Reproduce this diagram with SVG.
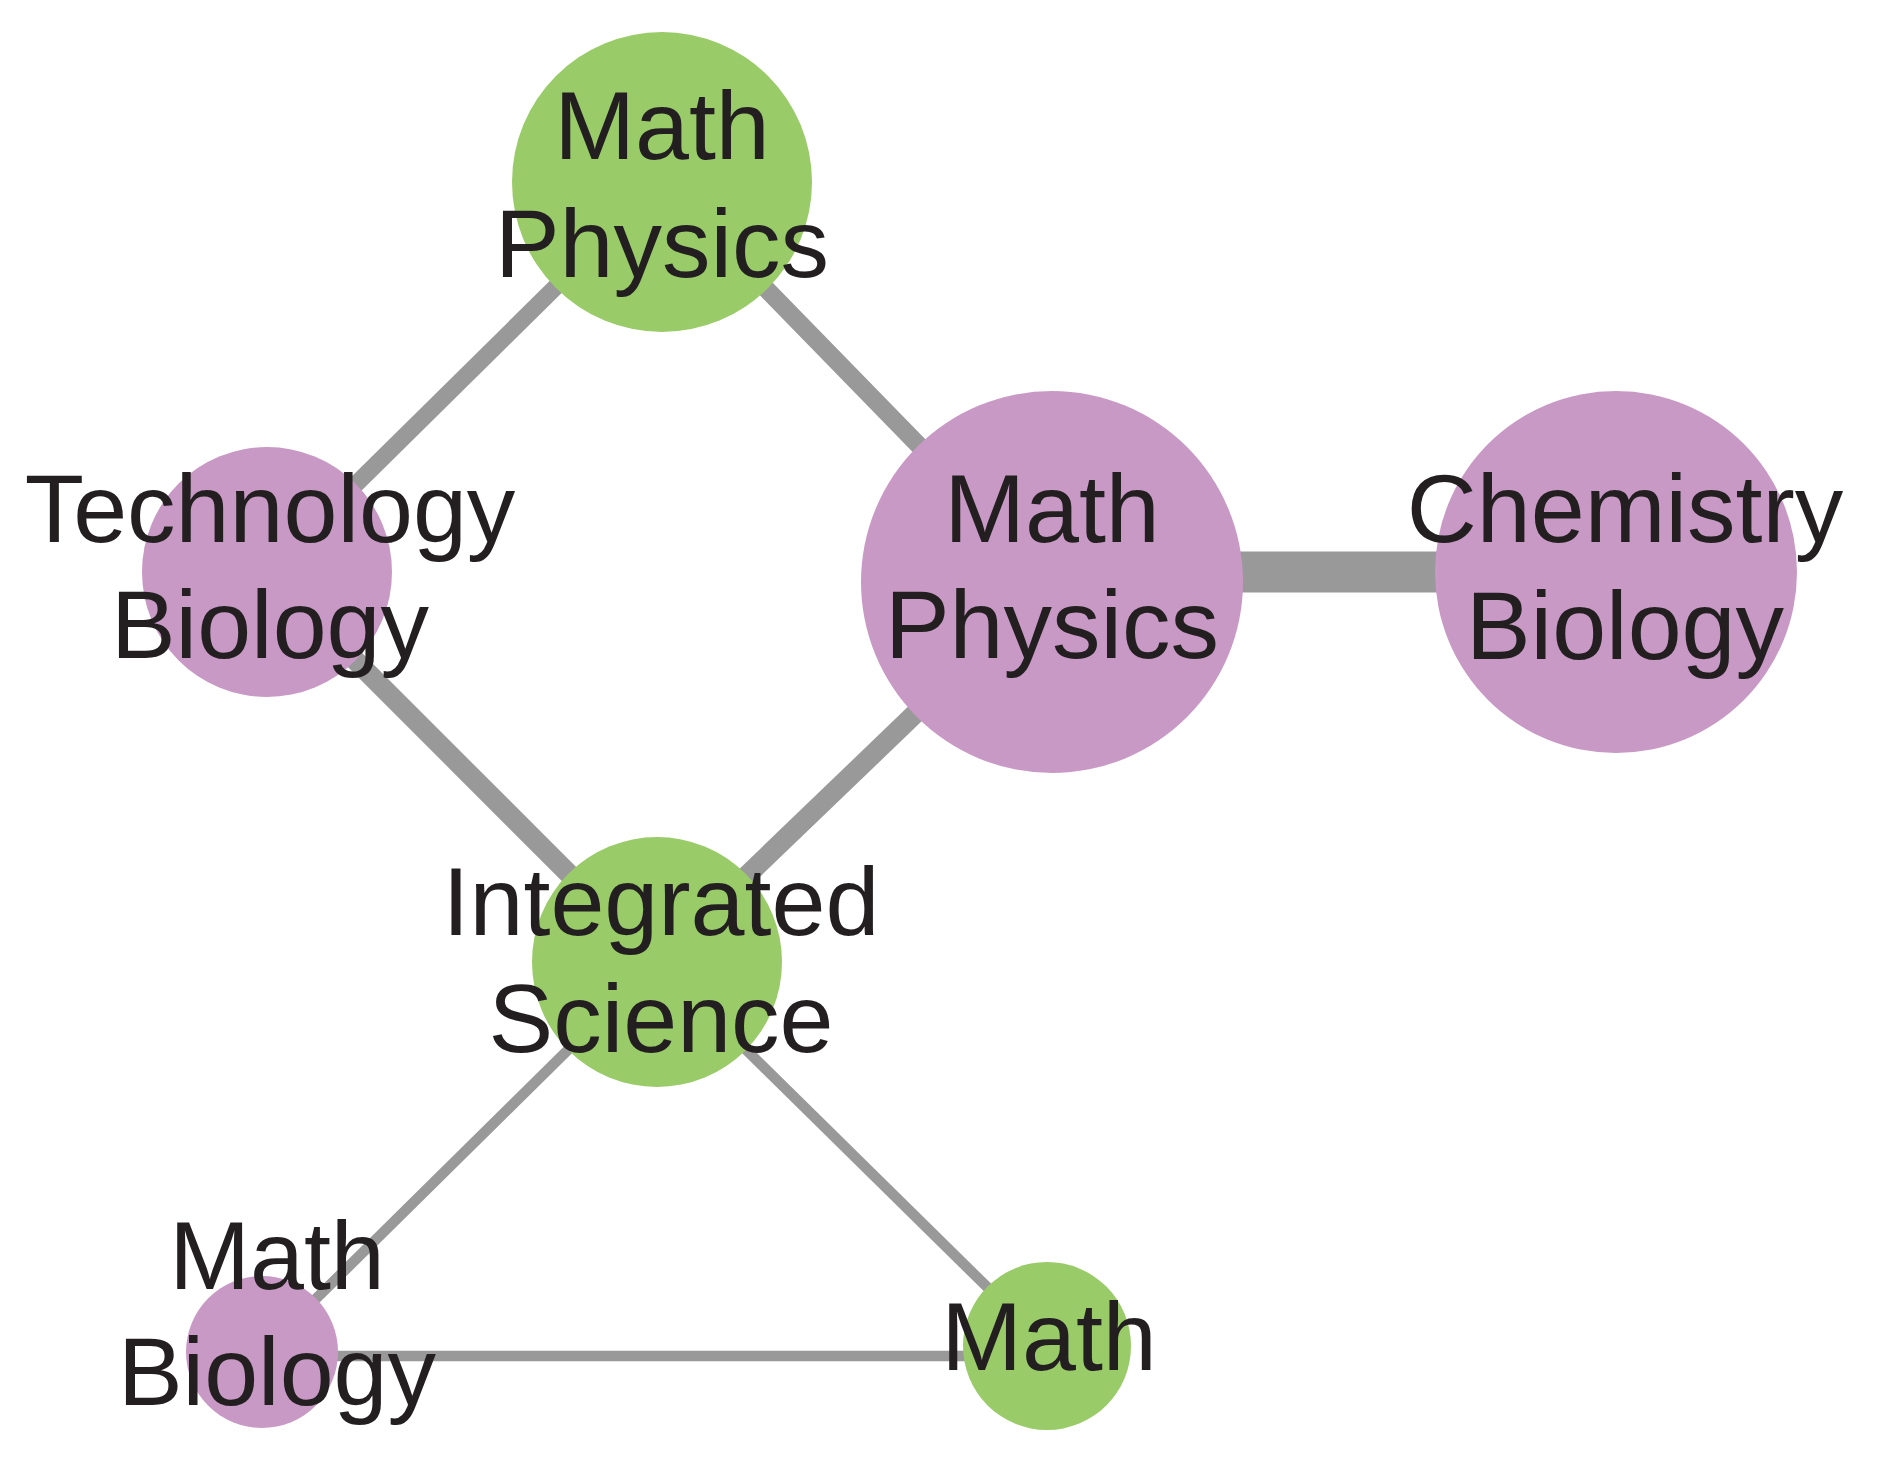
<svg xmlns="http://www.w3.org/2000/svg" width="1880" height="1460" viewBox="0 0 1880 1460">
<style>
.edge{stroke:#999999;stroke-linecap:butt;fill:none}
.green{fill:#9acb69}
.purple{fill:#c999c6}
.lbl{font-family:"Liberation Sans",Arial,sans-serif;font-size:97px;fill:#231f20;text-anchor:middle}
</style>
<rect width="1880" height="1460" fill="#ffffff"/>
<g id="edges">
<line class="edge" x1="662" y1="182" x2="267" y2="572" stroke-width="17"/>
<line class="edge" x1="662" y1="182" x2="1052" y2="582" stroke-width="18"/>
<line class="edge" x1="267" y1="572" x2="657" y2="962" stroke-width="20"/>
<line class="edge" x1="1052" y1="582" x2="657" y2="962" stroke-width="20"/>
<line class="edge" x1="1052" y1="572" x2="1616" y2="572" stroke-width="41"/>
<line class="edge" x1="657" y1="962" x2="262" y2="1352" stroke-width="10.5"/>
<line class="edge" x1="657" y1="962" x2="1047" y2="1346" stroke-width="10.5"/>
<line class="edge" x1="262" y1="1356" x2="1047" y2="1356" stroke-width="10.5"/>
</g>
<g id="node-math-physics-top">
<circle class="green" cx="662" cy="182" r="150"/>
<text class="lbl" x="662" y="159">Math</text>
<text class="lbl" x="662" y="277">Physics</text>
</g>
<g id="node-technology-biology">
<circle class="purple" cx="267" cy="572" r="125"/>
<text class="lbl" x="270" y="542">Technology</text>
<text class="lbl" x="270" y="658">Biology</text>
</g>
<g id="node-math-physics-big">
<circle class="purple" cx="1052" cy="582" r="191"/>
<text class="lbl" x="1052" y="542">Math</text>
<text class="lbl" x="1052" y="658">Physics</text>
</g>
<g id="node-chemistry-biology">
<circle class="purple" cx="1616" cy="572" r="181"/>
<text class="lbl" x="1625" y="542">Chemistry</text>
<text class="lbl" x="1625" y="659">Biology</text>
</g>
<g id="node-integrated-science">
<circle class="green" cx="657" cy="962" r="125"/>
<text class="lbl" x="661" y="935">Integrated</text>
<text class="lbl" x="661" y="1052">Science</text>
</g>
<g id="node-math-biology">
<circle class="purple" cx="262" cy="1352" r="76"/>
<text class="lbl" x="277" y="1289">Math</text>
<text class="lbl" x="277" y="1405">Biology</text>
</g>
<g id="node-math">
<circle class="green" cx="1047" cy="1346" r="84"/>
<text class="lbl" x="1049" y="1370">Math</text>
</g>
</svg>
